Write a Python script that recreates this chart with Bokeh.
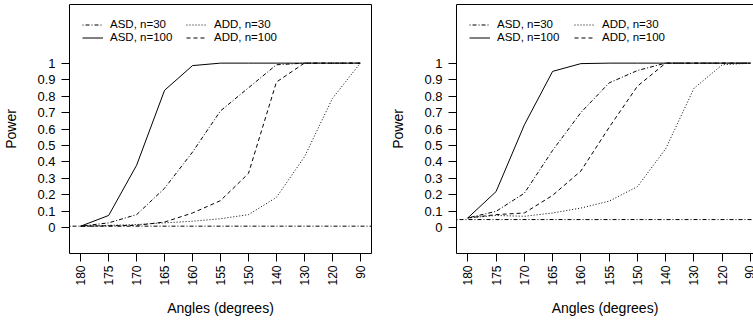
from bokeh.plotting import figure
from bokeh.layouts import row
from bokeh.models import Range1d, FixedTicker, LinearAxis, Legend, LegendItem, Span
from bokeh.embed import file_html
from bokeh.resources import INLINE

# ---- data ----
angles = ["180", "175", "170", "165", "160", "155", "150", "140", "130", "120", "90"]
x_idx = list(range(1, len(angles) + 1))

alpha_left = 0.01
asd30_left = [0.01, 0.03, 0.08, 0.24, 0.46, 0.71, 0.85, 0.99, 1.0, 1.0, 1.0]
asd100_left = [0.01, 0.075, 0.38, 0.835, 0.985, 1.0, 1.0, 1.0, 1.0, 1.0, 1.0]
add30_left = [0.01, 0.015, 0.02, 0.03, 0.04, 0.055, 0.08, 0.185, 0.43, 0.785, 1.0]
add100_left = [0.01, 0.012, 0.015, 0.035, 0.09, 0.165, 0.33, 0.885, 1.0, 1.0, 1.0]

alpha_right = 0.05
asd30_right = [0.06, 0.10, 0.21, 0.47, 0.70, 0.88, 0.955, 1.0, 1.0, 1.0, 1.0]
asd100_right = [0.06, 0.22, 0.625, 0.95, 0.997, 1.0, 1.0, 1.0, 1.0, 1.0, 1.0]
add30_right = [0.06, 0.075, 0.07, 0.09, 0.12, 0.162, 0.25, 0.48, 0.847, 0.99, 1.0]
add100_right = [0.06, 0.08, 0.09, 0.197, 0.345, 0.61, 0.86, 1.0, 1.0, 1.0, 1.0]

y_ticks = [0, 0.1, 0.2, 0.3, 0.4, 0.5, 0.6, 0.7, 0.8, 0.9, 1]
y_tick_labels = ["0", "0.1", "0.2", "0.3", "0.4", "0.5", "0.6", "0.7", "0.8", "0.9", "1"]

FONT = "Liberation Sans"
DOTDASH = "1 2 4 2"
DASHED = "4 3"
DOTTED = "1 2"


def make_panel(width, border_left, border_right, x_end, alpha, asd30, asd100, add30, add100, boxed, col2_x):
    p = figure(width=width, height=323, x_range=Range1d(0.6, x_end), y_range=Range1d(-0.156, 1.356),
               output_backend="svg", toolbar_location=None,
               min_border_left=border_left, min_border_right=border_right,
               min_border_top=4, min_border_bottom=70,
               x_axis_label="Angles (degrees)", y_axis_label="Power")
    p.grid.visible = False
    p.background_fill_color = "white"
    p.border_fill_color = "white"

    xa = p.below[0]
    ya = p.left[0]
    xa.ticker = FixedTicker(ticks=x_idx)
    xa.major_label_overrides = {i: a for i, a in zip(x_idx, angles)}
    xa.major_label_orientation = 3.14159265 / 2
    ya.ticker = FixedTicker(ticks=y_ticks)
    ya.major_label_overrides = {t: l for t, l in zip(y_ticks, y_tick_labels)}
    for ax in (xa, ya):
        ax.major_tick_out = 8
        ax.major_tick_in = 0
        ax.minor_tick_out = 0
        ax.minor_tick_in = 0
        ax.major_tick_line_color = "black"
        ax.axis_line_color = None if boxed else "black"
        ax.major_label_text_font = FONT
        ax.major_label_text_color = "black"
        ax.axis_label_text_font = FONT
        ax.axis_label_text_font_style = "normal"
        ax.axis_label_text_font_size = "14px"
        ax.axis_label_text_color = "black"
    xa.major_label_text_font_size = "12px"
    ya.major_label_text_font_size = "13px"
    xa.major_label_standoff = 4
    ya.major_label_standoff = 6
    xa.axis_label_standoff = 11
    ya.axis_label_standoff = 15

    if boxed:
        p.outline_line_color = "black"
        p.outline_line_width = 1
        p.outline_line_alpha = 1
    else:
        p.outline_line_color = None
        top = LinearAxis(ticker=FixedTicker(ticks=[]), major_tick_out=0, major_tick_in=0,
                         minor_tick_out=0, minor_tick_in=0, axis_line_color="black",
                         major_label_standoff=0, axis_label=None)
        p.add_layout(top, "above")

    p.add_layout(Span(location=alpha, dimension="width", line_color="black",
                      line_width=1, line_dash=DOTDASH))

    r1 = p.line(x_idx, asd30, line_color="black", line_width=1, line_dash=DOTDASH)
    r2 = p.line(x_idx, asd100, line_color="black", line_width=1)
    r3 = p.line(x_idx, add30, line_color="black", line_width=1, line_dash=DOTTED)
    r4 = p.line(x_idx, add100, line_color="black", line_width=1, line_dash=DASHED)

    def leg(label, rend, loc):
        lg = Legend(items=[LegendItem(label=label, renderers=[rend])], location=loc,
                    glyph_width=21, glyph_height=9, label_height=9, label_standoff=7,
                    spacing=0, padding=0, margin=0,
                    border_line_color=None, background_fill_alpha=0,
                    label_text_font=FONT, label_text_font_size="11.5px",
                    label_text_color="black")
        p.add_layout(lg, "center")

    leg("ASD, n=30", r1, (13, 223))
    leg("ASD, n=100", r2, (13, 210))
    leg("ADD, n=30", r3, (col2_x, 223))
    leg("ADD, n=100", r4, (col2_x, 210))
    return p


left = make_panel(376, 66, 5, 11.4, alpha_left, asd30_left, asd100_left, add30_left, add100_left, True, 117)
right = make_panel(377, 80, 0, 11.106, alpha_right, asd30_right, asd100_right, add30_right, add100_right, False, 118)

layout = row(left, right, spacing=0)
open("out.html", "w").write(file_html(layout, INLINE))
